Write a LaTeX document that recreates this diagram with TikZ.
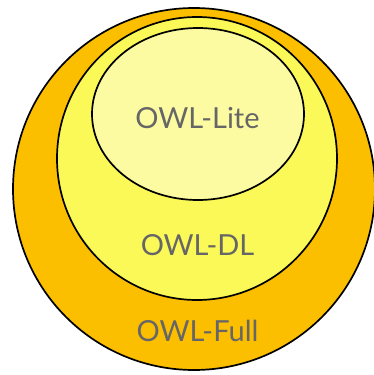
\documentclass[tikz,border=0pt]{standalone}
\usepackage{fontspec}
\setmainfont{Lato}
\usepackage{tikz}
\definecolor{owlfull}{HTML}{FBBF00}
\definecolor{owldl}{HTML}{FBF957}
\definecolor{owllite}{HTML}{FCFBA2}
\definecolor{owltext}{HTML}{666666}
\tikzset{owlname/.style={color=owltext,font=\fontsize{29}{29}\selectfont}}

\begin{document}
\begin{tikzpicture}[x=1pt,y=-1pt]
			\useasboundingbox (0,0) rectangle (374,375);
			\draw [fill=owlfull, line width=1.7pt] (194,189) circle [radius=181];
			\draw [fill=owldl, line width=1.7pt] (197,158.5) ellipse [x radius=140, y radius=141.5];
			\draw [fill=owllite, line width=1.7pt] (198,114) ellipse [x radius=106, y radius=86];
			
			\node[owlname] (lite) at (197.5,118) {OWL-Lite};
			\node[owlname] (dl) at (197.5,245) {OWL-DL};
			\node[owlname] (full) at (197.5,331) {OWL-Full};
		\end{tikzpicture}
\end{document}
